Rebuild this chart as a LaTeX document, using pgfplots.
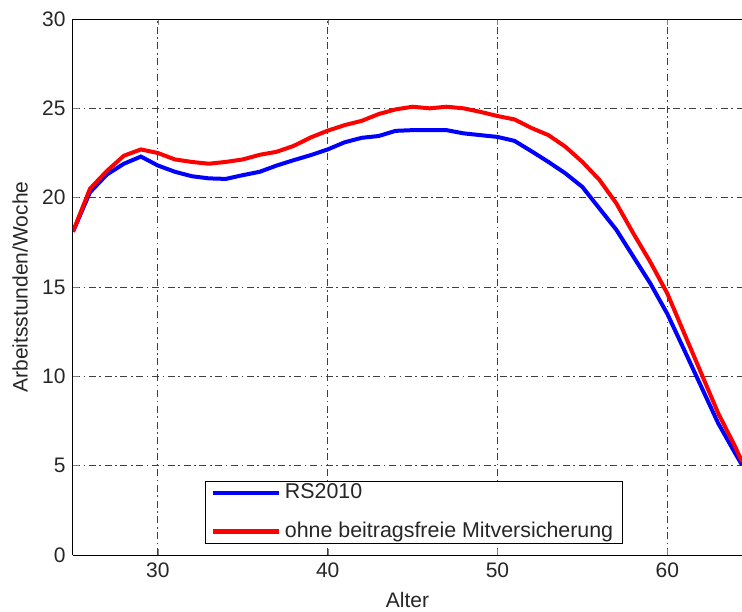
\documentclass[border=0pt]{standalone}
\usepackage{pgfplots}
\pgfplotsset{compat=1.18}
\usepackage{fontspec}
\setmainfont{Liberation Sans}
\begin{document}
\fontsize{10.5}{12.6}\selectfont
\begin{tikzpicture}
\begin{axis}[
  name=ax,
  scale only axis,
  width=334.5pt, height=268pt,
  xmin=25, xmax=64.4, ymin=0, ymax=30,
  xtick={30,40,50,60}, ytick={0,5,10,15,20,25,30},
  axis x line*=box, axis y line*=left,
  tick align=inside,
  major tick length=3pt,
  grid=major,
  major grid style={black!75, line width=0.45pt, dash pattern=on 3.5pt off 1.8pt on 0.8pt off 1.8pt},
  axis line style={black, line width=0.5pt},
  /pgf/number format/assume math mode=true,
  ticklabel style={font=\fontsize{10.5}{12.6}\selectfont, text=black!85},
  xlabel={Alter}, ylabel={Arbeitsstunden/Woche},
  label style={font=\fontsize{10.5}{12.6}\selectfont, text=black!85},
  xlabel style={at={(axis description cs:0.5,0)}, anchor=center, yshift=-22.5pt},
  ylabel style={at={(axis description cs:0,0.5)}, anchor=center, rotate=0, yshift=26.5pt},
  legend style={at={(rel axis cs:0.197,0.0205)}, anchor=south west, draw=black, line width=0.5pt,
    font=\fontsize{10.7}{12.8}\selectfont, text=black!85, inner xsep=2.5pt, inner ysep=0.3pt, row sep=8pt,
    nodes={inner ysep=0.5pt, text height=8pt, text depth=2.3pt},
    legend cell align=left},
  legend image code/.code={\draw[#1, line width=2.3pt] (0pt,0pt) -- (33pt,0pt);},
  clip=true,
]
\addplot[blue, line width=2pt] coordinates {
(25,18.1) (26,20.3) (27,21.3) (28,21.9) (29,22.3) (30,21.8) (31,21.45) (32,21.2) (33,21.08)
(34,21.05) (35,21.26) (36,21.45) (37,21.8) (38,22.1) (39,22.38) (40,22.7) (41,23.1) (42,23.35)
(43,23.45) (44,23.74) (45,23.78) (46,23.78) (47,23.78) (48,23.6) (49,23.5) (50,23.4) (51,23.18)
(52,22.6) (53,22.0) (54,21.36) (55,20.6) (56,19.4) (57,18.2) (58,16.7) (59,15.2) (60,13.5)
(61,11.47) (62,9.42) (63,7.37) (64,5.69) (64.4,5.04)
};
\addlegendentry{RS2010}
\addplot[red, line width=2pt] coordinates {
(25,18.1) (26,20.5) (27,21.5) (28,22.35) (29,22.7) (30,22.5) (31,22.14) (32,22.0) (33,21.9)
(34,22.0) (35,22.14) (36,22.4) (37,22.57) (38,22.9) (39,23.37) (40,23.75) (41,24.06) (42,24.3)
(43,24.68) (44,24.94) (45,25.09) (46,25.0) (47,25.09) (48,25.0) (49,24.8) (50,24.57) (51,24.38)
(52,23.9) (53,23.5) (54,22.85) (55,22.0) (56,21.0) (57,19.68) (58,18.0) (59,16.4) (60,14.64)
(61,12.4) (62,10.17) (63,7.93) (64,6.06) (64.4,5.22)
};
\addlegendentry{ohne beitragsfreie Mitversicherung}
\end{axis}
\pgfresetboundingbox
\path ([xshift=-36.5pt,yshift=-28pt]ax.south west) rectangle ([yshift=9.5pt]ax.north east);
\end{tikzpicture}
\end{document}
